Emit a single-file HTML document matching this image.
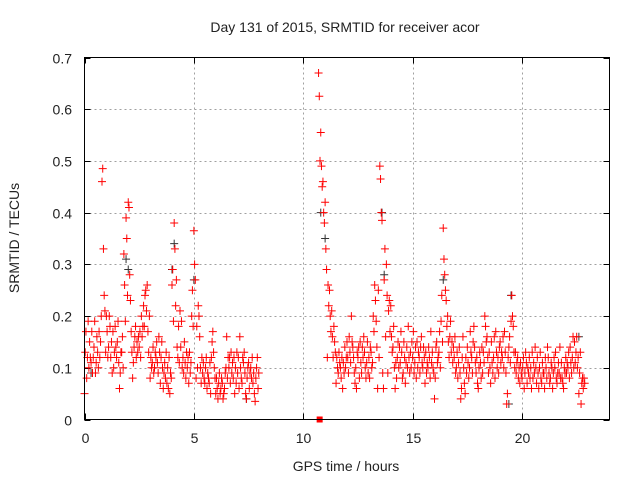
<!DOCTYPE html>
<html><head><meta charset="utf-8"><style>
body{margin:0;background:#fff}
svg text{font-family:"Liberation Sans",sans-serif;fill:#222}
</style></head><body>
<svg id="chart" width="640" height="480" xmlns="http://www.w3.org/2000/svg">
<rect width="640" height="480" fill="#fff"/>
<text x="345" y="32" font-size="14" text-anchor="middle">Day 131 of 2015, SRMTID for receiver acor</text>
<text x="346" y="471" font-size="14" text-anchor="middle">GPS time / hours</text>
<text transform="translate(19,238) rotate(-90)" font-size="14" text-anchor="middle">SRMTID / TECUs</text>
<g id="grid"></g>
<g id="ticks"></g>
<g id="marks"></g>
<rect x="84.5" y="57.5" width="525" height="362" fill="none" stroke="#000" stroke-width="1"/>
</svg>
<script>
const xTicks=[0,5,10,15,20];
const yTicks=[0,0.1,0.2,0.3,0.4,0.5,0.6,0.7];
const yTickLabels=["0","0.1","0.2","0.3","0.4","0.5","0.6","0.7"];
const times=[0.0,0.1,0.2,0.3,0.4,0.5,0.6,0.7,0.8,0.9,1.0,1.1,1.2,1.3,1.4,1.5,1.6,1.7,1.8,1.9,2.0,2.1,2.2,2.3,2.4,2.5,2.6,2.7,2.8,2.9,3.0,3.1,3.2,3.3,3.4,3.5,3.6,3.7,3.8,3.9,4.0,4.1,4.2,4.3,4.4,4.5,4.6,4.7,4.8,4.9,5.0,5.1,5.2,5.3,5.4,5.5,5.6,5.7,5.8,5.9,6.0,6.1,6.2,6.3,6.4,6.5,6.6,6.7,6.8,6.9,7.0,7.1,7.2,7.3,7.4,7.5,7.6,7.7,7.8,7.9,
10.7,10.8,10.9,11.0,11.1,11.2,11.3,11.4,11.5,11.6,11.7,11.8,11.9,12.0,12.1,12.2,12.3,12.4,12.5,12.6,12.7,12.8,12.9,13.0,13.1,13.2,13.3,13.4,13.5,13.6,13.7,13.8,13.9,14.0,14.1,14.2,14.3,14.4,14.5,14.6,14.7,14.8,14.9,15.0,15.1,15.2,15.3,15.4,15.5,15.6,15.7,15.8,15.9,16.0,16.1,16.2,16.3,16.4,16.5,16.6,16.7,16.8,16.9,17.0,17.1,17.2,17.3,17.4,17.5,17.6,17.7,17.8,17.9,18.0,18.1,18.2,18.3,18.4,18.5,18.6,18.7,18.8,18.9,19.0,19.1,19.2,19.3,19.4,19.5,19.6,19.7,19.8,19.9,20.0,20.1,20.2,20.3,20.4,20.5,20.6,20.7,20.8,20.9,21.0,21.1,21.2,21.3,21.4,21.5,21.6,21.7,21.8,21.9,22.0,22.1,22.2,22.3,22.4,22.5,22.6,22.7,22.8];
const valsA=[0.05,0.08,0.10,0.11,0.12,0.09,0.13,0.12,0.46,0.24,0.20,0.14,0.12,0.17,0.18,0.15,0.06,0.13,0.32,0.39,0.42,0.23,0.08,0.16,0.15,0.14,0.20,0.22,0.25,0.17,0.08,0.11,0.10,0.15,0.16,0.12,0.06,0.08,0.10,0.05,0.26,0.38,0.27,0.18,0.14,0.12,0.11,0.10,0.13,0.20,0.365,0.08,0.22,0.10,0.09,0.07,0.06,0.07,0.12,0.13,0.05,0.04,0.05,0.07,0.06,0.16,0.10,0.13,0.08,0.10,0.09,0.16,0.07,0.13,0.04,0.11,0.10,0.07,0.035,0.12,
0.67,0.555,0.46,0.42,0.12,0.25,0.21,0.18,0.07,0.09,0.10,0.06,0.14,0.15,0.16,0.20,0.12,0.10,0.12,0.15,0.14,0.13,0.11,0.12,0.13,0.20,0.23,0.06,0.49,0.385,0.27,0.30,0.21,0.22,0.14,0.06,0.12,0.14,0.13,0.15,0.11,0.18,0.13,0.12,0.11,0.15,0.12,0.16,0.14,0.13,0.10,0.08,0.13,0.04,0.15,0.13,0.19,0.37,0.25,0.20,0.16,0.15,0.12,0.10,0.11,0.04,0.16,0.05,0.14,0.10,0.12,0.18,0.09,0.06,0.11,0.09,0.20,0.16,0.13,0.15,0.12,0.17,0.12,0.15,0.12,0.17,0.03,0.14,0.19,0.18,0.13,0.12,0.07,0.08,0.06,0.11,0.09,0.10,0.08,0.14,0.12,0.10,0.07,0.09,0.10,0.12,0.08,0.06,0.10,0.07,0.09,0.11,0.06,0.12,0.10,0.14,0.12,0.15,0.16,0.05,0.03,0.06];
const valsB=[0.13,0.12,0.15,0.17,0.14,0.11,0.10,0.15,0.485,0.21,0.17,0.20,0.15,0.10,0.14,0.19,0.09,0.16,0.26,0.35,0.41,0.17,0.11,0.18,0.13,0.17,0.16,0.18,0.21,0.13,0.12,0.14,0.13,0.11,0.13,0.15,0.09,0.13,0.06,0.09,0.29,0.33,0.14,0.11,0.19,0.09,0.08,0.12,0.09,0.25,0.30,0.18,0.20,0.07,0.11,0.10,0.09,0.11,0.15,0.10,0.08,0.07,0.06,0.04,0.09,0.08,0.12,0.09,0.12,0.07,0.12,0.10,0.12,0.09,0.08,0.06,0.08,0.09,0.08,0.06,
0.625,0.49,0.40,0.33,0.26,0.20,0.16,0.15,0.12,0.13,0.08,0.11,0.10,0.12,0.13,0.15,0.09,0.06,0.14,0.11,0.12,0.10,0.15,0.08,0.10,0.17,0.19,0.25,0.465,0.09,0.33,0.24,0.23,0.16,0.18,0.11,0.15,0.11,0.08,0.12,0.14,0.12,0.10,0.17,0.14,0.10,0.09,0.11,0.12,0.09,0.14,0.17,0.10,0.08,0.11,0.17,0.24,0.31,0.23,0.15,0.19,0.11,0.16,0.13,0.14,0.06,0.10,0.12,0.11,0.17,0.09,0.14,0.12,0.10,0.08,0.13,0.18,0.12,0.10,0.11,0.16,0.13,0.09,0.11,0.16,0.13,0.05,0.16,0.24,0.13,0.09,0.08,0.11,0.10,0.09,0.07,0.12,0.06,0.11,0.10,0.09,0.13,0.11,0.06,0.08,0.09,0.11,0.09,0.13,0.09,0.14,0.08,0.10,0.09,0.13,0.11,0.16,0.11,0.10,0.09,0.07,0.08];
const valsC=[0.17,0.19,0.12,0.09,0.19,0.16,0.17,0.20,0.33,0.13,0.12,0.18,0.09,0.13,0.12,0.11,0.13,0.10,0.19,0.24,0.28,0.13,0.14,0.12,0.16,0.12,0.18,0.24,0.26,0.20,0.10,0.09,0.12,0.09,0.07,0.10,0.11,0.07,0.12,0.08,0.19,0.22,0.12,0.21,0.10,0.15,0.13,0.07,0.11,0.18,0.27,0.10,0.16,0.12,0.08,0.12,0.08,0.05,0.17,0.08,0.06,0.09,0.08,0.05,0.10,0.12,0.07,0.11,0.05,0.13,0.06,0.08,0.11,0.05,0.10,0.09,0.12,0.05,0.10,0.09,
0.50,0.45,0.38,0.29,0.22,0.17,0.12,0.13,0.10,0.11,0.12,0.09,0.12,0.09,0.11,0.14,0.07,0.13,0.08,0.09,0.16,0.08,0.09,0.14,0.11,0.26,0.14,0.12,0.40,0.06,0.16,0.09,0.17,0.13,0.10,0.08,0.10,0.17,0.09,0.07,0.10,0.09,0.15,0.09,0.08,0.13,0.14,0.10,0.07,0.11,0.12,0.11,0.09,0.14,0.12,0.10,0.15,0.28,0.18,0.12,0.13,0.14,0.09,0.08,0.09,0.12,0.07,0.09,0.08,0.13,0.15,0.11,0.07,0.13,0.14,0.11,0.15,0.09,0.07,0.09,0.08,0.10,0.14,0.13,0.10,0.09,0.12,0.11,0.20,0.10,0.11,0.10,0.09,0.12,0.13,0.10,0.08,0.13,0.09,0.07,0.06,0.08,0.09,0.12,0.14,0.07,0.10,0.12,0.08,0.11,0.08,0.07,0.09,0.11,0.08,0.09,0.10,0.13,0.12,0.13,0.08,0.07];
const blackTimes=[0.3,1.9,2.0,4.0,4.1,5.0,7.4,10.8,11.0,13.6,13.7,16.4,19.4,19.5,22.6];
const blackVals=[0.09,0.31,0.29,0.29,0.34,0.27,0.04,0.40,0.35,0.40,0.28,0.27,0.03,0.24,0.16];
const gapTimes=[10.75];
const gapVals=[0.0];

const NS="http://www.w3.org/2000/svg";
const X0=84.5,X1=609.5,Y0=419.5,Y1=57.5,XMAX=24,YMAX=0.7;
function xs(t){return X0+(X1-X0)*t/XMAX;}
function ys(v){return Y0-(Y0-Y1)*v/YMAX;}
const grid=document.getElementById('grid'),ticks=document.getElementById('ticks'),marks=document.getElementById('marks');
function line(g,x1,y1,x2,y2,st,dash){const l=document.createElementNS(NS,'line');l.setAttribute('x1',x1);l.setAttribute('y1',y1);l.setAttribute('x2',x2);l.setAttribute('y2',y2);l.setAttribute('stroke',st);if(dash)l.setAttribute('stroke-dasharray',dash);g.appendChild(l);return l;}
xTicks.forEach(t=>{const x=Math.round(xs(t))+0.5;
 if(t>0){const gl=line(grid,x,Y1,x,Y0,'#a0a0a0','2,3');
 
 }
 const tk=line(ticks,x,Y0,x,Y0-6,'#000');
 
 
 line(ticks,x,Y1,x,Y1+6,'#000');
 const tx=document.createElementNS(NS,'text');tx.setAttribute('x',x);tx.setAttribute('y',443);tx.setAttribute('font-size','14');tx.setAttribute('text-anchor','middle');tx.textContent=String(t);
 
 
 ticks.appendChild(tx);});
yTicks.forEach((v,i)=>{const y=Math.round(ys(v))+0.5;
 if(v>0&&v<0.7){const gl=line(grid,X0,y,X1,y,'#a0a0a0','2,3');
 
 }
 const tk=line(ticks,X0,y,X0+6,y,'#000');
 
 
 line(ticks,X1,y,X1-6,y,'#000');
 const tx=document.createElementNS(NS,'text');tx.setAttribute('x',72);tx.setAttribute('y',y+5);tx.setAttribute('font-size','14');tx.setAttribute('text-anchor','end');tx.textContent=yTickLabels[i];
 
 
 ticks.appendChild(tx);});
function plus(t,v,col){const x=xs(t),y=ys(v);const p=document.createElementNS(NS,'path');
 p.setAttribute('d','M'+(x-4)+' '+y+'H'+(x+4)+'M'+x+' '+(y-4)+'V'+(y+4));
 p.setAttribute('stroke',col);p.setAttribute('stroke-width','1');
 
 
 marks.appendChild(p);}
blackTimes.forEach((t,i)=>plus(t,blackVals[i],'#333'));
const series=[valsA,valsB,valsC];
series.forEach((vals,k)=>{times.forEach((t,i)=>plus(t+k*0.033,vals[i],'#ff0000'));});
gapTimes.forEach((t,i)=>{const r=document.createElementNS(NS,'rect');r.setAttribute('x',xs(t)-3);r.setAttribute('y',ys(gapVals[i])-3);r.setAttribute('width',6);r.setAttribute('height',6);r.setAttribute('fill','#ff0000');
 
 
 marks.appendChild(r);});
</script>
</body></html>
